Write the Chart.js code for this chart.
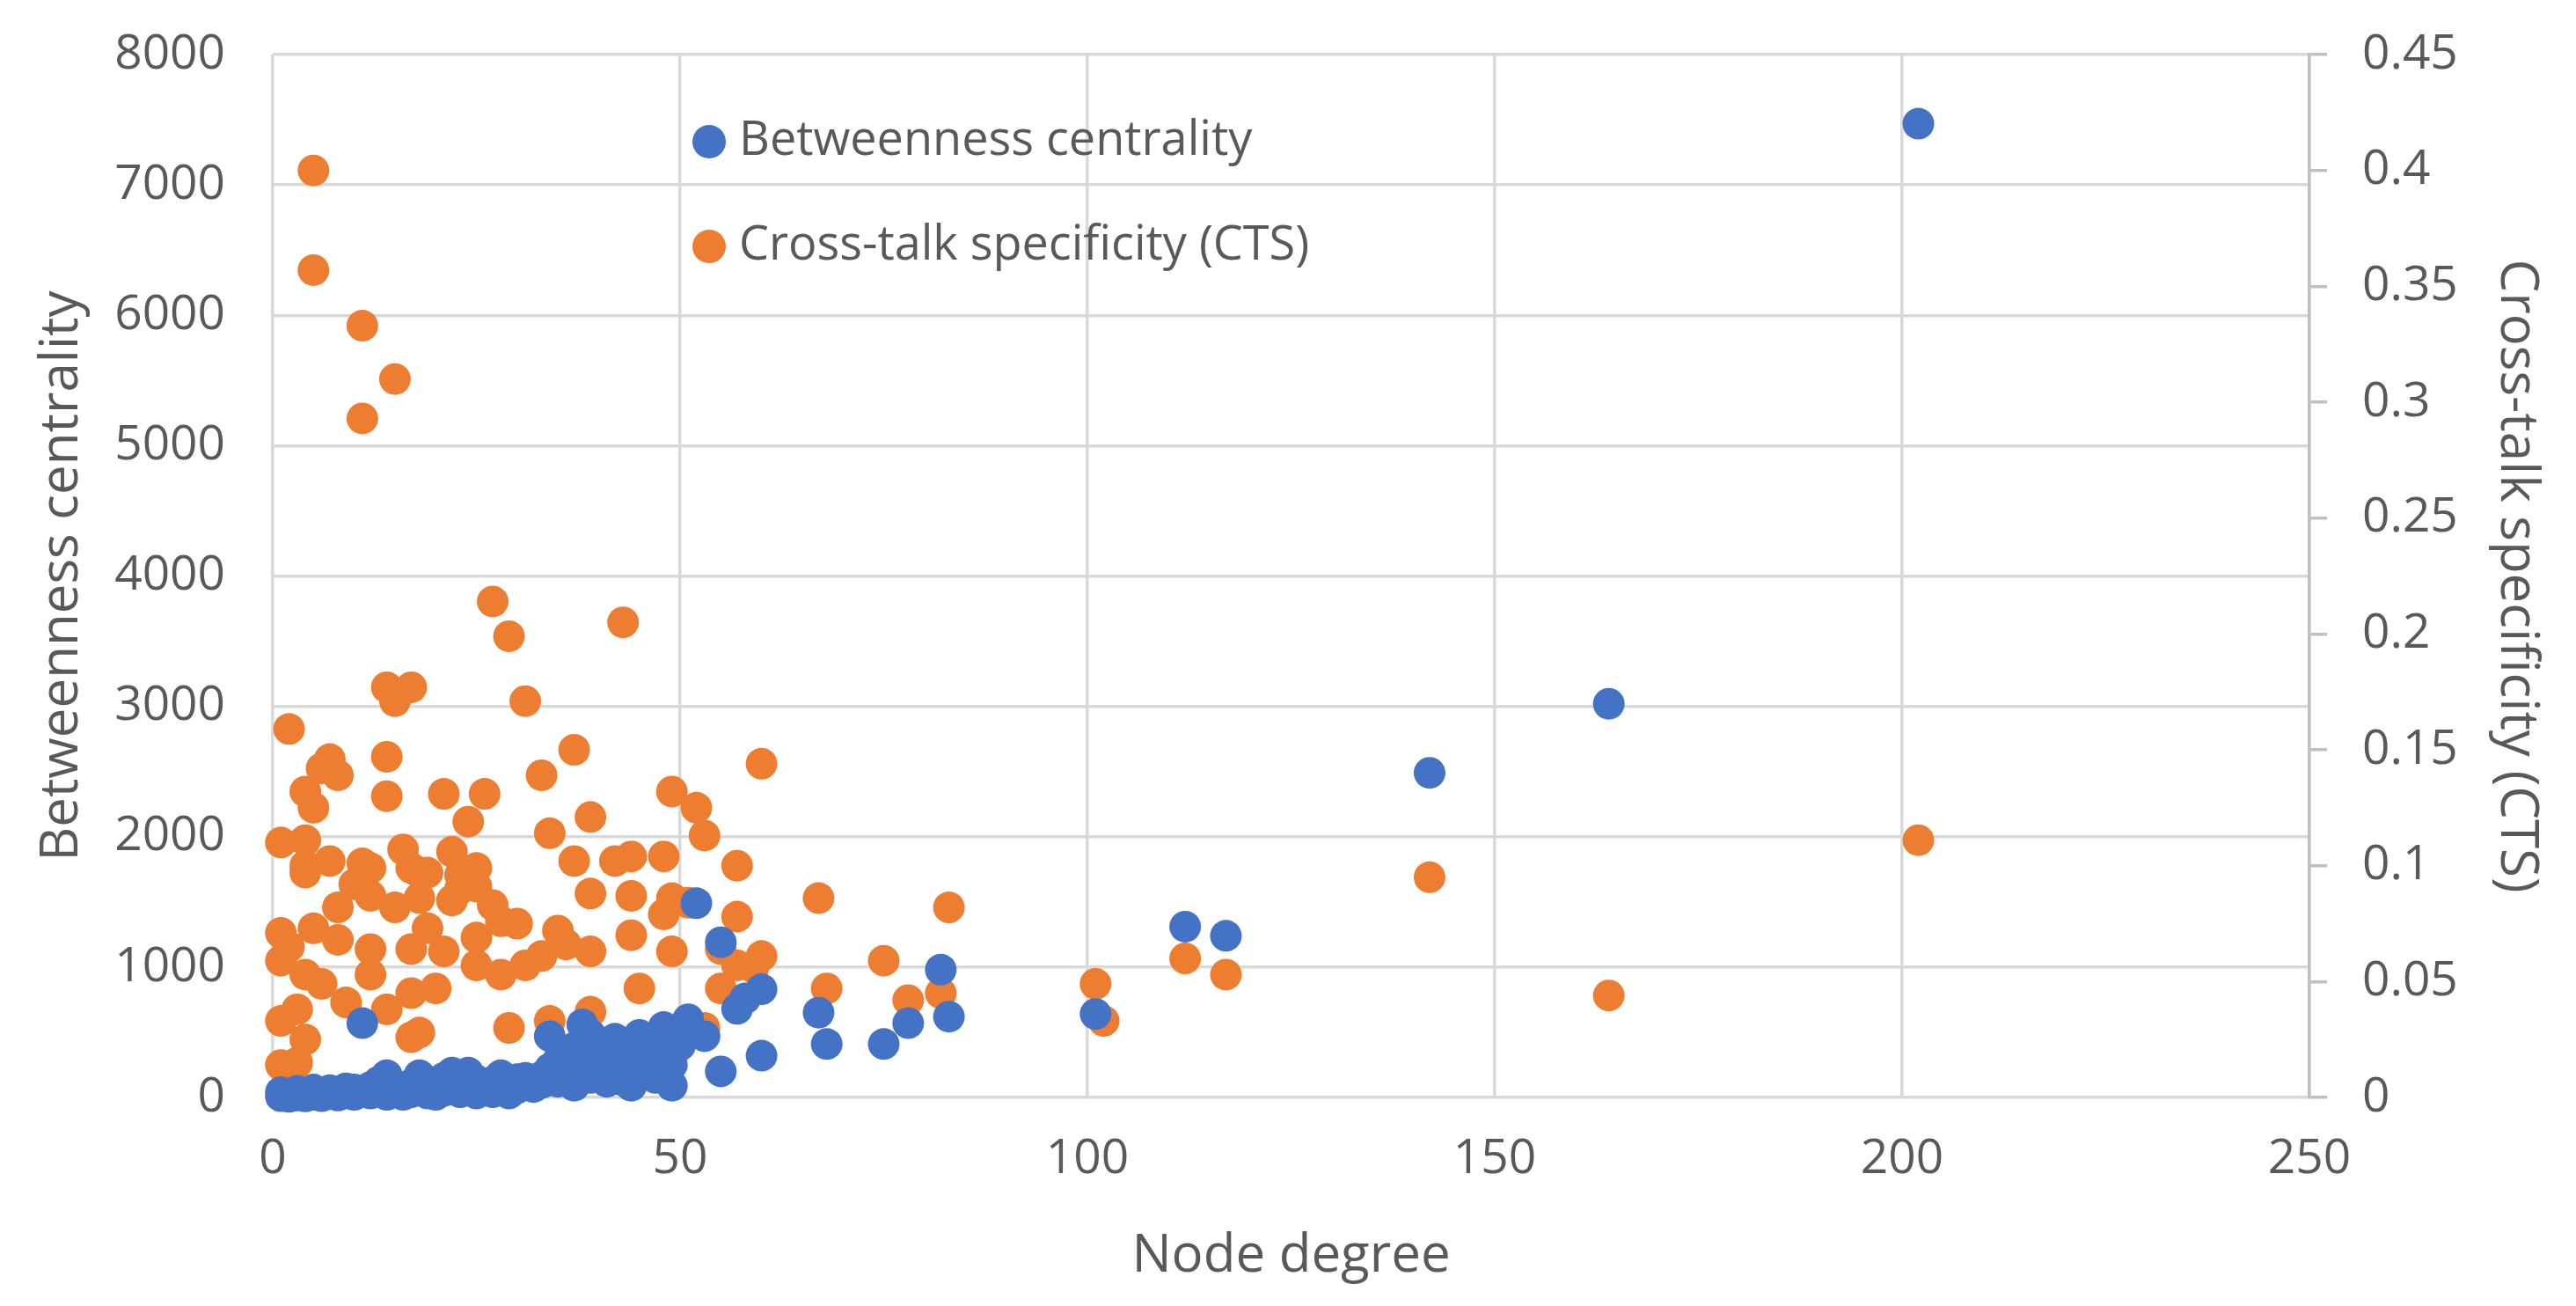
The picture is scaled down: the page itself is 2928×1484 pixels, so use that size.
<!DOCTYPE html>
<html>
<head>
<meta charset="utf-8">
<script src="https://cdn.jsdelivr.net/npm/chart.js@4.4.1/dist/chart.umd.min.js"></script>
<style>
  html, body { margin: 0; padding: 0; background: #ffffff; }
  canvas { display: block; }
</style>
</head>
<body>
<canvas id="grafico" width="2928" height="1484" style="width:2928px;height:1484px"></canvas>
<script>
// Dados ========================================================================

const degreeTicks = [0, 50, 100, 150, 200, 250];

// Betweenness centrality (left axis)
const bcDegree = [
  1, 1, 2, 2, 3, 3, 4, 4, 5, 5, 6, 6, 7, 7, 8, 8, 9, 9, 10, 10,
  11, 11, 12, 12, 13, 13, 14, 14, 15, 15, 16, 16, 17, 17, 18, 18, 19, 19, 20, 20,
  21, 21, 22, 22, 23, 23, 24, 24, 25, 25, 26, 27, 27, 28, 28, 29, 29, 30, 30, 31,
  32, 33, 33, 34, 34, 35, 35, 36, 36, 37, 37, 38, 38, 38, 39, 39, 39, 40, 40, 41,
  41, 42, 42, 43, 43, 44, 44, 44, 45, 45, 46, 47, 47, 48, 48, 49, 49, 49, 50, 51,
  52, 53, 55, 55, 57, 58, 60, 60, 67, 68, 75, 78, 82, 83, 101, 112, 117, 142, 164, 202
];
const bcValue = [
  10, 40, 5, 25, 15, 50, 8, 30, 20, 60, 10, 35, 25, 55, 15, 45, 30, 70, 20, 60,
  40, 570, 30, 80, 120, 50, 170, 20, 90, 40, 60, 20, 100, 40, 170, 60, 30, 110, 80, 20,
  150, 50, 190, 90, 120, 40, 190, 70, 130, 30, 90, 120, 40, 170, 60, 110, 30, 140, 70, 150,
  80, 110, 160, 470, 220, 280, 120, 330, 160, 380, 90, 560, 420, 250, 480, 330, 150, 380, 200, 280,
  120, 450, 330, 250, 130, 360, 90, 210, 300, 480, 250, 150, 350, 540, 230, 360, 90, 250, 400, 600,
  1490, 470, 1190, 200, 680, 760, 830, 320, 650, 410, 410, 570, 980, 620, 640, 1310, 1240, 2490, 3020, 7470
];

// Cross-talk specificity (right axis)
const ctsDegree = [
  5, 5, 11, 15, 11, 27, 43, 29, 14, 17, 15, 31, 2, 37, 60, 7, 8, 14, 6, 26,
  33, 21, 49, 52, 4, 5, 14, 24, 39, 34, 53, 1, 4, 16, 22, 37, 4, 7, 11, 17,
  19, 25, 42, 44, 48, 57, 4, 12, 18, 23, 25, 8, 12, 15, 18, 22, 39, 1, 5, 8,
  12, 17, 21, 19, 25, 28, 30, 35, 39, 1, 4, 6, 12, 9, 14, 17, 20, 17, 18, 3,
  1, 4, 1, 3, 25, 28, 31, 29, 34, 39, 44, 49, 51, 48, 57, 44, 49, 55, 60, 59,
  57, 45, 55, 53, 67, 83, 75, 68, 78, 82, 101, 102, 112, 117, 142, 164, 202, 27,
  23, 10, 2, 36, 33
];
const ctsValue = [
  0.400, 0.357, 0.333, 0.310, 0.293, 0.214, 0.205, 0.199, 0.177, 0.177,
  0.171, 0.171, 0.159, 0.150, 0.144, 0.146, 0.139, 0.147, 0.142, 0.131,
  0.139, 0.131, 0.132, 0.125, 0.132, 0.125, 0.130, 0.119, 0.121, 0.114,
  0.113, 0.110, 0.111, 0.107, 0.106, 0.102, 0.100, 0.102, 0.101, 0.099,
  0.097, 0.099, 0.102, 0.104, 0.104, 0.100, 0.097, 0.099, 0.097, 0.096,
  0.091, 0.082, 0.087, 0.082, 0.086, 0.085, 0.088, 0.071, 0.073, 0.068,
  0.064, 0.064, 0.063, 0.073, 0.069, 0.076, 0.075, 0.072, 0.063, 0.059,
  0.053, 0.049, 0.053, 0.041, 0.038, 0.045, 0.047, 0.026, 0.028, 0.038,
  0.033, 0.025, 0.014, 0.015, 0.057, 0.053, 0.057, 0.030, 0.033, 0.037,
  0.087, 0.086, 0.084, 0.079, 0.078, 0.070, 0.063, 0.064, 0.061, 0.056,
  0.057, 0.047, 0.047, 0.030, 0.086, 0.082, 0.059, 0.047, 0.042, 0.045,
  0.049, 0.033, 0.060, 0.053, 0.095, 0.044, 0.111, 0.083,
  0.090, 0.092, 0.065, 0.066, 0.061
];

// Estilos ======================================================================

const corTexto = "#595959";
const corGrade = "#D9D9D9";
const corEixo = "#BFBFBF";
const fonte = "'Open Sans', 'Liberation Sans', sans-serif";

const pontos = (xs, ys) => xs.map((x, i) => ({ x: x, y: ys[i] }));

// largura fixa do eixo vertical, sem folga extra em cima/embaixo
const eixoFixo = (largura) => (s) => {
  s.width = largura;
  s.paddingTop = 0;
  s.paddingBottom = 0;
};

const data = {
  datasets: [
    {
      label: "Betweenness centrality",
      data: pontos(bcDegree, bcValue),
      backgroundColor: "#4472C4",
      yAxisID: "y",
      pointRadius: 18,
      borderWidth: 0,
      clip: false,
    },
    {
      label: "Cross-talk specificity (CTS)",
      data: pontos(ctsDegree, ctsValue),
      backgroundColor: "#ED7D31",
      yAxisID: "y2",
      pointRadius: 18,
      borderWidth: 0,
      clip: false,
    },
  ],
};

// legenda dentro da área do gráfico
const legendaInterna = {
  id: "legendaInterna",
  afterDraw(chart) {
    const ctx = chart.ctx;
    const area = chart.chartArea;
    ctx.save();
    chart.data.datasets.forEach((ds, i) => {
      const y = area.top + 99 + i * 119;
      ctx.fillStyle = ds.backgroundColor;
      ctx.beginPath();
      ctx.arc(area.left + 496, y, 19, 0, Math.PI * 2);
      ctx.fill();
      ctx.fillStyle = corTexto;
      ctx.font = "54px " + fonte;
      ctx.textBaseline = "middle";
      ctx.textAlign = "left";
      ctx.fillText(ds.label, area.left + 530, y);
    });
    ctx.restore();
  },
};

const config = {
  type: "scatter",
  data: data,
  plugins: [legendaInterna],
  options: {
    responsive: false,
    animation: false,
    devicePixelRatio: 1,
    layout: { padding: { top: 62, left: 0, right: 0, bottom: 0 }, autoPadding: false },
    plugins: {
      legend: { display: false },
      tooltip: { enabled: false },
    },
    scales: {
      x: {
        type: "linear",
        min: 0,
        max: 250,
        afterBuildTicks: (s) => { s.ticks = degreeTicks.map((v) => ({ value: v })); },
        afterFit: (s) => { s.height = 237; },
        ticks: { padding: 37, color: corTexto, font: { family: fonte, size: 55 }, callback: (v) => String(v) },
        grid: { color: corGrade, lineWidth: 3.5, drawTicks: false },
        border: { display: false },
        title: {
          display: true,
          text: "Node degree",
          color: corTexto,
          font: { family: fonte, size: 60 },
          padding: { top: 0, bottom: 20 },
        },
      },
      y: {
        position: "left",
        min: 0,
        max: 8000,
        afterFit: eixoFixo(310),
        ticks: {
          stepSize: 1000,
          padding: 54,
          color: corTexto,
          font: { family: fonte, size: 55 },
          callback: (v) => String(v),
        },
        grid: { color: corGrade, lineWidth: 3.5, drawTicks: false },
        border: { display: false },
        title: {
          display: true,
          text: "Betweenness centrality",
          color: corTexto,
          font: { family: fonte, size: 60 },
          padding: { top: 35, bottom: 0 },
        },
      },
      y2: {
        position: "right",
        min: 0,
        max: 0.45,
        afterFit: eixoFixo(303),
        ticks: {
          stepSize: 0.05,
          padding: 40,
          color: corTexto,
          font: { family: fonte, size: 55 },
          callback: (v) => String(+v.toFixed(2)),
        },
        grid: { drawOnChartArea: false, drawTicks: true, tickLength: 20, color: corEixo, lineWidth: 3.5 },
        border: { display: true, color: corEixo, width: 3.5 },
        title: {
          display: true,
          text: "Cross-talk specificity (CTS)",
          color: corTexto,
          font: { family: fonte, size: 60 },
          padding: { top: 32, bottom: 0 },
        },
      },
    },
  },
};

const grafico = new Chart(document.getElementById("grafico"), config);
</script>
</body>
</html>
